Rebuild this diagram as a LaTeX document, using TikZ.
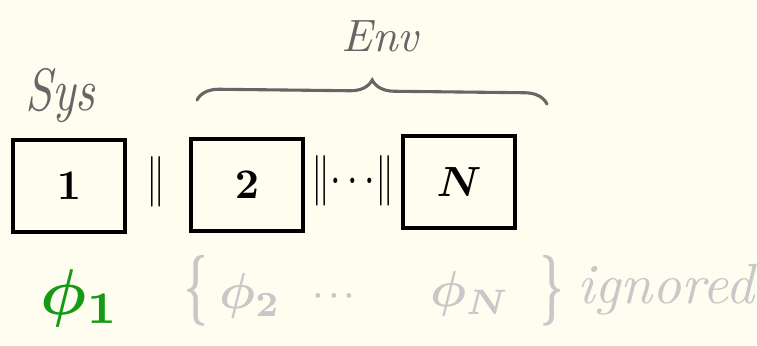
\documentclass[tikz,border=0pt]{standalone}
\usetikzlibrary{decorations.pathreplacing}

\definecolor{paper}{HTML}{FEFDF0}
\definecolor{pencil}{HTML}{666666}
\definecolor{faded}{HTML}{C8C8C8}
\definecolor{keep}{HTML}{169A16}

\begin{document}
\begin{tikzpicture}[
    x=0.025cm, y=-0.025cm,
    cell/.style={draw, line width=2.2pt, minimum width=2.8cm, minimum height=2.3cm, inner sep=0pt},
    big/.style={scale=3, font=\boldmath},
    bars/.style={xscale=2.7, yscale=3.6},
    label/.style={text=pencil, scale=3.4, font=\itshape},
    gone/.style={text=faded, scale=3.6, font=\boldmath}
]
\fill[paper] (0,0) rectangle (757,345);
\useasboundingbox (0,0) rectangle (757,345);

% the three subsystems
\node[cell] (b1) at (69,186) {};
\node[cell] (b2) at (247,185) {};
\node[cell] (bN) at (459,182) {};
\node[big] (n1) at (b1) {$1$};
\node[big] (n2) at (b2) {$2$};
\node[big] (nN) at (bN) {$N$};

\node[bars] (p1) at (156,182) {$\|$};
\node[bars] (p2) at (353,181) {$\|\!\cdots\!\|$};

% labels above
\node[label, yscale=1.25] (sys) at (60,96) {Sys};
\node[label, scale=0.95] (env) at (380,36) {Env};
\coordinate (envL) at (197,100);
\coordinate (envR) at (547,104);
\draw[pencil, line width=2.2pt, line cap=round, decorate, decoration={brace, amplitude=0.55cm}]
    (envL) -- (envR);

% states below
\node[text=keep, scale=4.6, font=\boldmath] (f1) at (80,298) {$\phi_1$};
\node[gone, xscale=0.8, yscale=1.4] (lb) at (196,291) {$\{$};
\node[gone] (f2) at (250,296) {$\phi_2$};
\node[gone, scale=0.6] (dots) at (334,296) {$\cdots$};
\node[gone] (fN) at (470,294) {$\phi_N$};
\node[gone, xscale=0.8, yscale=1.4] (rb) at (552,291) {$\}$};
\node[gone, scale=1.12, font=\itshape] (ign) at (666,290) {ignored};
\end{tikzpicture}
\end{document}
